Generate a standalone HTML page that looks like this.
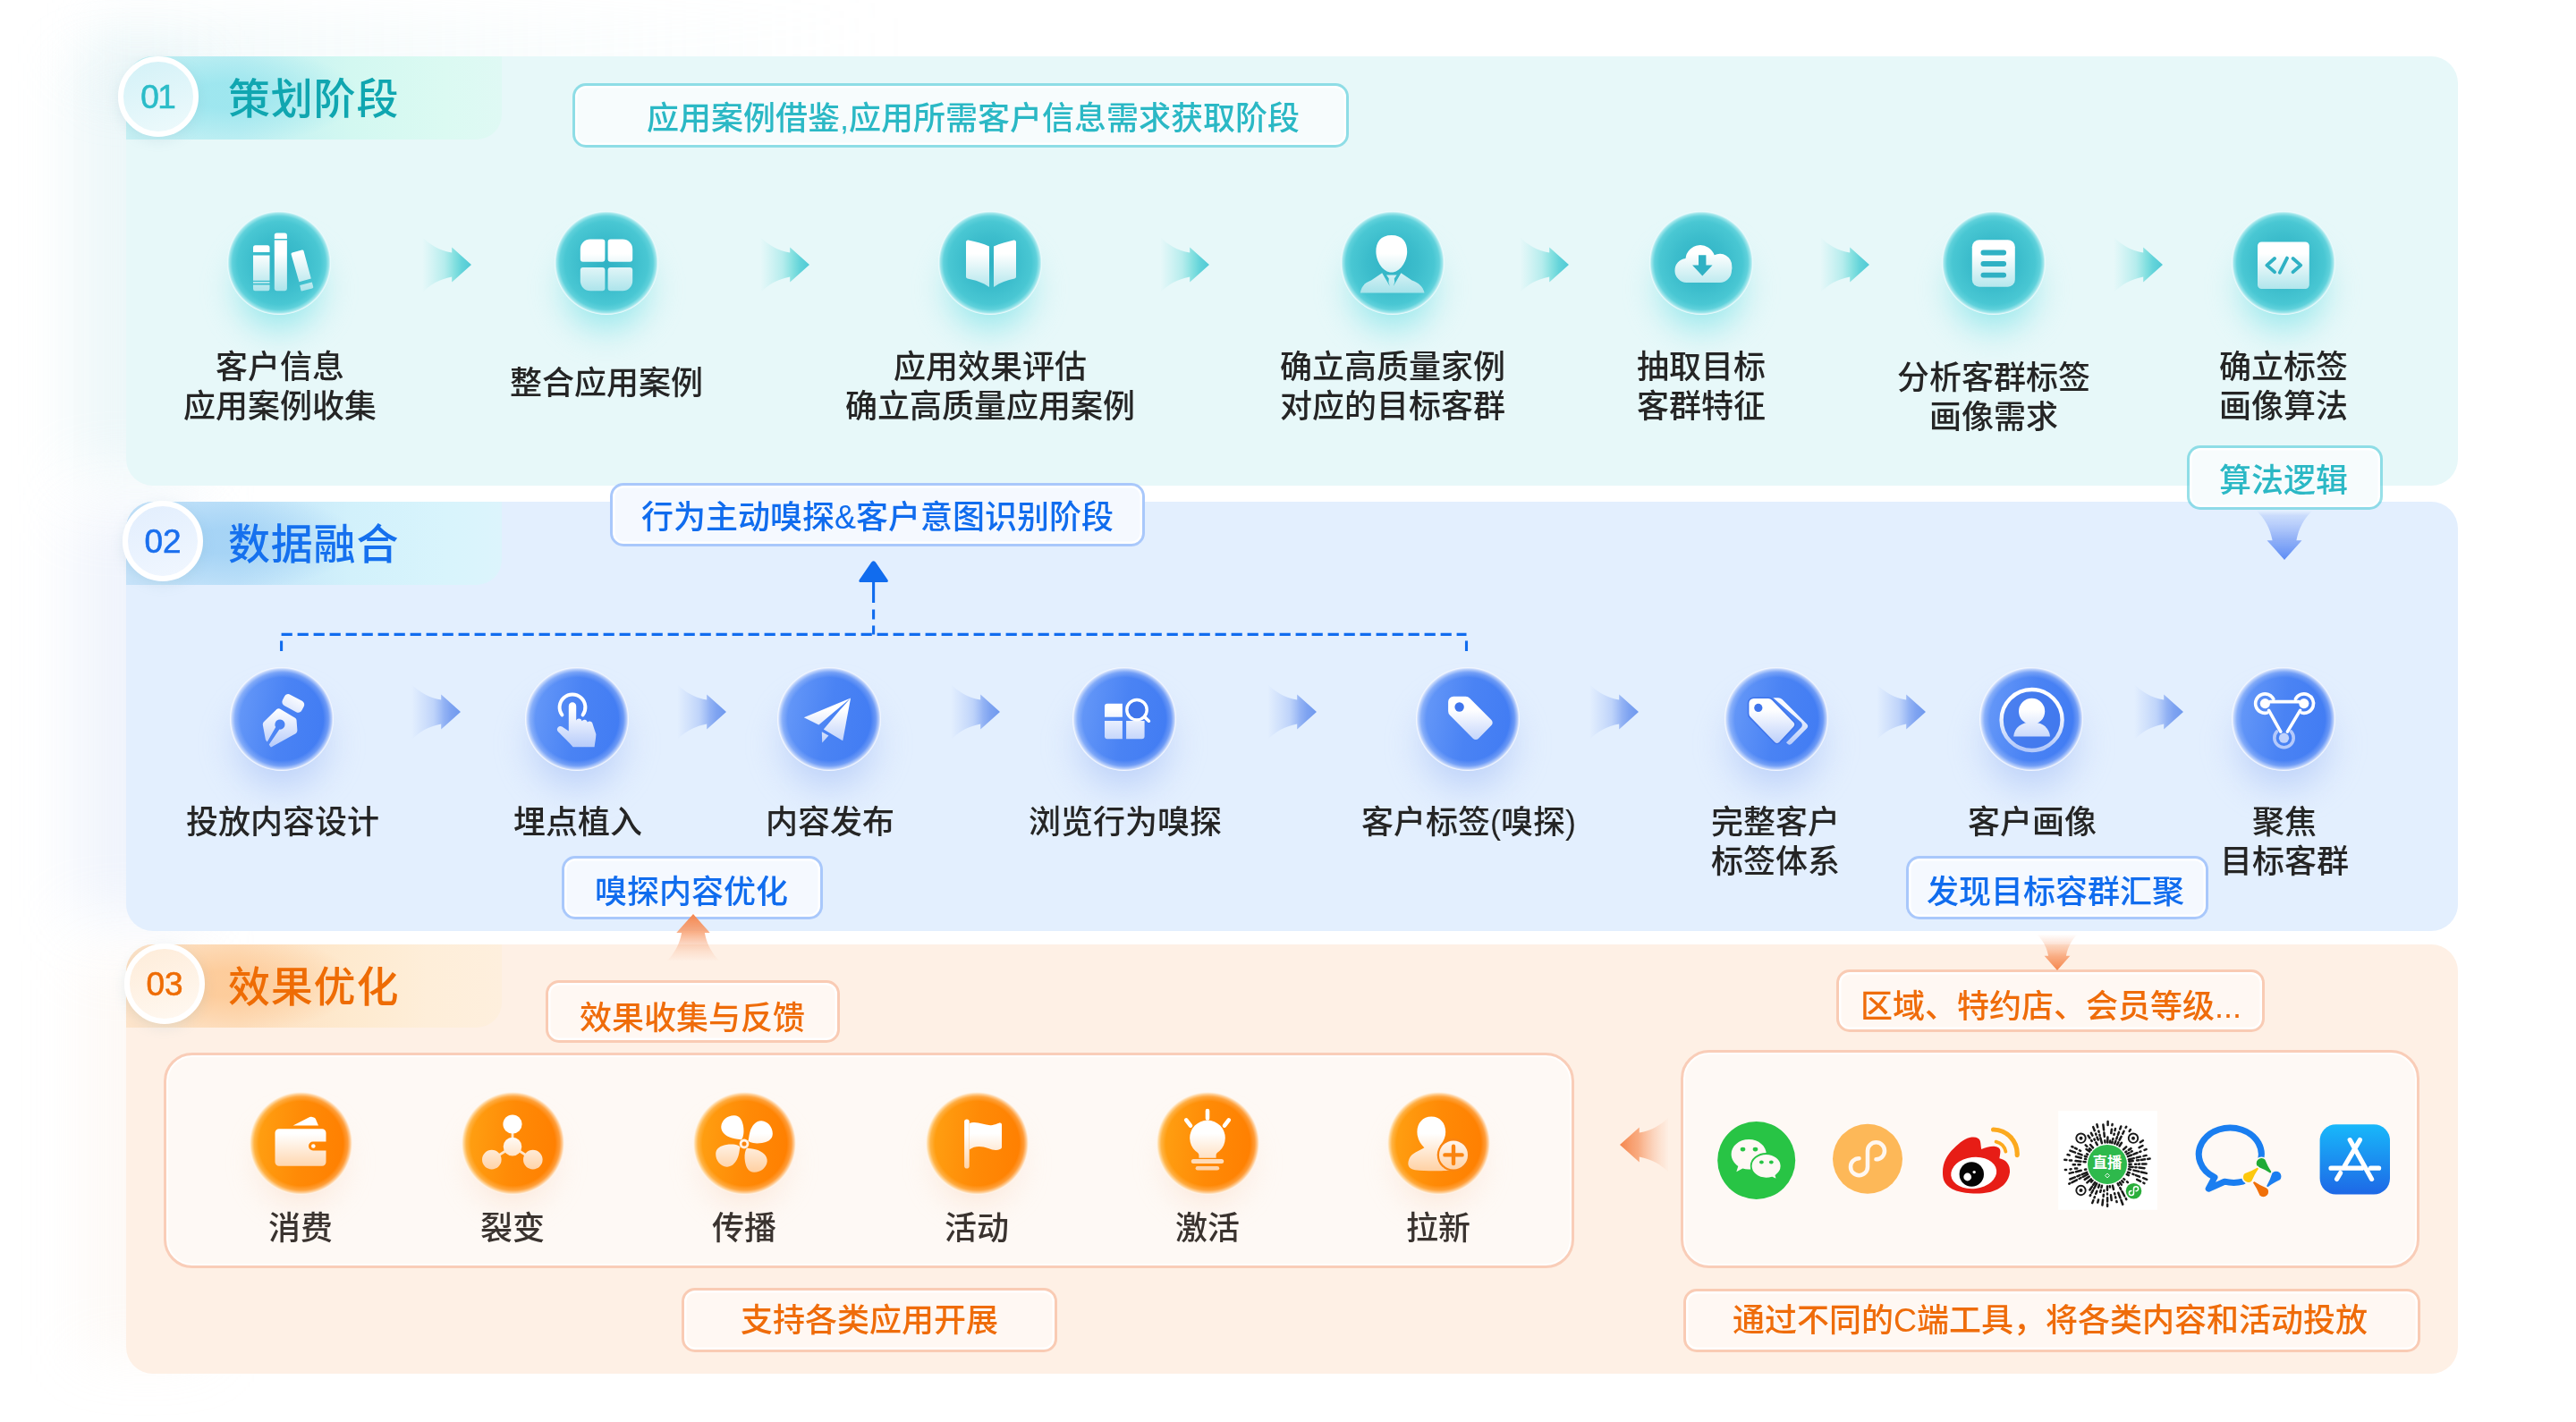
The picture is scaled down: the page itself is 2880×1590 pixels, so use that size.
<!DOCTYPE html><html lang="zh-CN"><head><meta charset="utf-8"><title>客户运营流程</title><style>
*{box-sizing:border-box;margin:0;padding:0}
html,body{width:2880px;height:1590px;background:#fff;overflow:hidden}
body{font-family:"Liberation Sans","Noto Sans CJK SC",sans-serif;color:#222}
#stage{position:relative;width:2880px;height:1590px;overflow:hidden;
 background:
  #fff}
.abs{position:absolute}
.lbl,.box span,.title,.num{will-change:transform}
.panel{position:absolute;left:141px;width:2607px;border-radius:30px}
.p1{top:63px;height:480px;background:#e7f8f9}
.p2{top:561px;height:480px;background:#e3effe}
.p3{top:1056px;height:480px;background:#fef0e5}
.tab{position:absolute;left:141px;width:420px;height:93px;border-radius:30px 0 28px 0;overflow:hidden}
.t1{top:63px;background:linear-gradient(90deg,#c6f0f4 0%,#c0eff3 30%,#d3f8f1 60%,#dbfaf2 85%,#dff9f4 100%)}
.t2{top:561px;background:linear-gradient(90deg,#c6e2f9 0%,#c0e2f9 30%,#d2f1fb 60%,#d8f4fc 85%,#dcf4fc 100%)}
.t3{top:1056px;background:linear-gradient(90deg,#fde4cb 0%,#fddfbf 30%,#feeacf 60%,#feeed9 80%,#feefdd 100%)}
.num{position:absolute;width:90px;height:90px;border-radius:50%;border:6px solid #fff;margin:-45px 0 0 -45px;
 font-size:37px;line-height:79px;text-align:center;-webkit-text-stroke:.6px currentColor;box-shadow:0 4px 14px rgba(120,170,190,.18)}
.n1{background:linear-gradient(160deg,#d3f1f7,#eefafc);color:#2bbcc8}
.n2{background:linear-gradient(160deg,#e2eefd,#f1f7ff);color:#1a6fee}
.n3{background:linear-gradient(160deg,#feecd9,#fff9f2);color:#ee6c05}
.title{position:absolute;left:255px;font-size:47px;font-weight:500;letter-spacing:0.8px;line-height:60px;height:60px;white-space:nowrap}
.lbl{position:absolute;transform:translateX(-50%);text-align:center;white-space:nowrap;font-size:36px;line-height:44px;font-weight:500;color:#252525}
.box{position:absolute;border-radius:15px;border:3px solid;font-size:36px;font-weight:500;white-space:nowrap;line-height:1;box-shadow:inset 0 0 0 2.5px rgba(255,255,255,.95)}
.box span{position:absolute;transform:translate(-50%,-50%);display:block;line-height:36px}
.bt{border-color:rgba(84,204,216,.6);background:#f7fcfd;background-clip:padding-box;color:#2bb8c5}
.bb{border-color:#a9c8fb;background:#f5f9ff;color:#106cee}
.bo{border-color:#f9cbb4;background:#fff8f3;color:#ef6c0a}
.big{position:absolute;border:3px solid #f9cdb8;border-radius:32px;background:#fef9f5;box-shadow:inset 0 0 0 2px rgba(255,255,255,.9)}
.ic{position:absolute;width:114px;height:114px;margin:-57px 0 0 -57px;border-radius:50%}
.ic:before{content:"";position:absolute;left:-8px;right:-8px;top:22px;bottom:-36px;border-radius:50%;filter:blur(14px);z-index:0}
.ic i{position:absolute;inset:-1px;border-radius:50%;z-index:1}
.org i{inset:-.5px}
.ic svg{position:absolute;left:0;top:0;width:114px;height:114px;z-index:2;overflow:visible}
.teal:before{background:radial-gradient(closest-side,rgba(110,222,228,.95),rgba(140,230,234,.6) 55%,rgba(170,238,240,0))}
.teal i{background:radial-gradient(circle closest-side at 50% 50%,#2fb2c4 0%,#3cbdcc 50%,#49c7d3 80%,#5fd1db 90%,#9fe6eb 96%,#e6f9fb 99%,#f2fcfd 100%)}
.blue:before{left:-14px;right:-14px;top:16px;bottom:-40px;background:radial-gradient(closest-side,rgba(150,180,245,.72),rgba(170,195,248,.42) 58%,rgba(190,210,250,0))}
.blue i{background:radial-gradient(circle closest-side at 50% 50%,rgba(255,255,255,0) 0%,rgba(255,255,255,0) 80%,rgba(255,255,255,.22) 90%,rgba(255,255,255,.6) 96%,rgba(255,255,255,.92) 99%,rgba(255,255,255,.96) 100%),linear-gradient(100deg,#6d9ef9 0%,#4a83f4 50%,#3f7af3 100%)}
.org:before{left:-4px;right:-4px;top:18px;bottom:-26px;background:radial-gradient(closest-side,rgba(248,200,170,.6),rgba(250,215,190,.35) 60%,rgba(252,225,205,0))}
.org i{background:radial-gradient(circle closest-side at 50% 50%,rgba(255,255,255,0) 0%,rgba(255,255,255,0) 82%,rgba(255,240,220,.25) 91%,rgba(255,244,230,.65) 96%,rgba(255,250,244,.92) 99%,rgba(255,250,244,.96) 100%),linear-gradient(95deg,#ffa414 0%,#ff8a06 50%,#ff7d00 100%)}
.arr{position:absolute;overflow:visible}
</style></head><body><div id="stage">
<svg width="0" height="0" style="position:absolute"><defs>
<linearGradient id="gT" gradientUnits="userSpaceOnUse" x1="0" y1="-34" x2="0" y2="33"><stop offset="0" stop-color="#fff"/><stop offset=".35" stop-color="#fff"/><stop offset="1" stop-color="#a9e3ea"/></linearGradient>
<linearGradient id="gB" gradientUnits="userSpaceOnUse" x1="0" y1="-34" x2="0" y2="33"><stop offset="0" stop-color="#fff"/><stop offset=".35" stop-color="#fff"/><stop offset="1" stop-color="#b3c9fa"/></linearGradient>
<linearGradient id="gO" gradientUnits="userSpaceOnUse" x1="0" y1="-34" x2="0" y2="33"><stop offset="0" stop-color="#fff"/><stop offset=".35" stop-color="#fff"/><stop offset="1" stop-color="#ffcfa0"/></linearGradient>
<linearGradient id="aT" x1="0" y1="0" x2="1" y2="0"><stop offset="0" stop-color="#8ae3e3" stop-opacity="0"/><stop offset=".15" stop-color="#8ae3e3" stop-opacity=".16"/><stop offset=".45" stop-color="#84e1e1" stop-opacity=".5"/><stop offset=".66" stop-color="#78dddd" stop-opacity=".9"/><stop offset=".8" stop-color="#64d4da"/><stop offset="1" stop-color="#4fc9d5"/></linearGradient>
<linearGradient id="aB" x1="0" y1="0" x2="1" y2="0"><stop offset="0" stop-color="#a4bff7" stop-opacity="0"/><stop offset=".15" stop-color="#a4bff7" stop-opacity=".18"/><stop offset=".45" stop-color="#9ab8f6" stop-opacity=".5"/><stop offset=".66" stop-color="#8aacf3" stop-opacity=".9"/><stop offset=".8" stop-color="#7ea3f1"/><stop offset="1" stop-color="#6f99ee"/></linearGradient>
<linearGradient id="aB2" x1="0" y1="0" x2="1" y2="0"><stop offset="0" stop-color="#a9c2fa" stop-opacity="0"/><stop offset=".1" stop-color="#a9c2fa" stop-opacity=".45"/><stop offset=".55" stop-color="#86a8f6" stop-opacity=".85"/><stop offset="1" stop-color="#5b8bf5"/></linearGradient>
<linearGradient id="aO" x1="0" y1="0" x2="1" y2="0"><stop offset="0" stop-color="#f9b08a" stop-opacity="0"/><stop offset=".2" stop-color="#f9b08a" stop-opacity=".25"/><stop offset=".62" stop-color="#f79a68" stop-opacity=".8"/><stop offset="1" stop-color="#f5854c"/></linearGradient>
</defs></svg>
<div class="abs" style="left:82px;top:70px;width:140px;height:460px;background:rgba(200,230,235,.32);filter:blur(32px)"></div>
<div class="abs" style="left:82px;top:575px;width:140px;height:450px;background:rgba(205,220,245,.3);filter:blur(32px)"></div>
<div class="abs" style="left:92px;top:1075px;width:140px;height:440px;background:rgba(245,228,216,.22);filter:blur(32px)"></div>
<div class="abs" style="left:100px;top:20px;width:900px;height:90px;background:linear-gradient(90deg,rgba(200,232,236,.22),rgba(200,232,236,0));filter:blur(26px)"></div>
<div class="panel p1"></div><div class="panel p2"></div><div class="panel p3"></div>
<div class="tab t1"><div class="abs" style="left:-40px;top:-12px;width:300px;height:112px;border-radius:50%;background:radial-gradient(closest-side,rgba(145,227,237,.72) 0%,rgba(145,227,237,.72) 25%,rgba(255,255,255,0) 100%);"></div></div>
<div class="num n1" style="left:177px;top:108px;letter-spacing:-1.5px;text-indent:-1.5px;">01</div>
<div class="title" style="top:80.5px;color:#10a6b0">策划阶段</div>
<div class="tab t2"><div class="abs" style="left:-40px;top:-12px;width:300px;height:112px;border-radius:50%;background:radial-gradient(closest-side,rgba(155,206,244,.7) 0%,rgba(155,206,244,.7) 25%,rgba(255,255,255,0) 100%);"></div></div>
<div class="num n2" style="left:182px;top:604.5px;">02</div>
<div class="title" style="top:578.5px;color:#1570ee">数据融合</div>
<div class="tab t3"><div class="abs" style="left:-40px;top:-12px;width:300px;height:112px;border-radius:50%;background:radial-gradient(closest-side,rgba(253,196,140,.7) 0%,rgba(253,196,140,.7) 25%,rgba(255,255,255,0) 100%);"></div></div>
<div class="num n3" style="left:183.5px;top:1100px;">03</div>
<div class="title" style="top:1073.5px;color:#ee6c05">效果优化</div>
<svg class="arr" style="left:527px;top:295.5px" width="1" height="1"><g transform="rotate(0) scale(1)"><path transform="translate(-54.8,0)" d="M0,-31 C8,-22.5 19,-16 33,-13.4 L33,-19.5 L54.8,0 L33,19.5 L33,13.4 C19,16 8,22.5 0,31 Z" fill="url(#aT)"/></g></svg>
<svg class="arr" style="left:905px;top:295.5px" width="1" height="1"><g transform="rotate(0) scale(1)"><path transform="translate(-54.8,0)" d="M0,-31 C8,-22.5 19,-16 33,-13.4 L33,-19.5 L54.8,0 L33,19.5 L33,13.4 C19,16 8,22.5 0,31 Z" fill="url(#aT)"/></g></svg>
<svg class="arr" style="left:1352px;top:295.5px" width="1" height="1"><g transform="rotate(0) scale(1)"><path transform="translate(-54.8,0)" d="M0,-31 C8,-22.5 19,-16 33,-13.4 L33,-19.5 L54.8,0 L33,19.5 L33,13.4 C19,16 8,22.5 0,31 Z" fill="url(#aT)"/></g></svg>
<svg class="arr" style="left:1754px;top:295.5px" width="1" height="1"><g transform="rotate(0) scale(1)"><path transform="translate(-54.8,0)" d="M0,-31 C8,-22.5 19,-16 33,-13.4 L33,-19.5 L54.8,0 L33,19.5 L33,13.4 C19,16 8,22.5 0,31 Z" fill="url(#aT)"/></g></svg>
<svg class="arr" style="left:2090px;top:295.5px" width="1" height="1"><g transform="rotate(0) scale(1)"><path transform="translate(-54.8,0)" d="M0,-31 C8,-22.5 19,-16 33,-13.4 L33,-19.5 L54.8,0 L33,19.5 L33,13.4 C19,16 8,22.5 0,31 Z" fill="url(#aT)"/></g></svg>
<svg class="arr" style="left:2417.5px;top:295.5px" width="1" height="1"><g transform="rotate(0) scale(1)"><path transform="translate(-54.8,0)" d="M0,-31 C8,-22.5 19,-16 33,-13.4 L33,-19.5 L54.8,0 L33,19.5 L33,13.4 C19,16 8,22.5 0,31 Z" fill="url(#aT)"/></g></svg>
<svg class="arr" style="left:515px;top:796px" width="1" height="1"><g transform="rotate(0) scale(1)"><path transform="translate(-54.8,0)" d="M0,-31 C8,-22.5 19,-16 33,-13.4 L33,-19.5 L54.8,0 L33,19.5 L33,13.4 C19,16 8,22.5 0,31 Z" fill="url(#aB)"/></g></svg>
<svg class="arr" style="left:812px;top:796px" width="1" height="1"><g transform="rotate(0) scale(1)"><path transform="translate(-54.8,0)" d="M0,-31 C8,-22.5 19,-16 33,-13.4 L33,-19.5 L54.8,0 L33,19.5 L33,13.4 C19,16 8,22.5 0,31 Z" fill="url(#aB)"/></g></svg>
<svg class="arr" style="left:1117.5px;top:796px" width="1" height="1"><g transform="rotate(0) scale(1)"><path transform="translate(-54.8,0)" d="M0,-31 C8,-22.5 19,-16 33,-13.4 L33,-19.5 L54.8,0 L33,19.5 L33,13.4 C19,16 8,22.5 0,31 Z" fill="url(#aB)"/></g></svg>
<svg class="arr" style="left:1472px;top:796px" width="1" height="1"><g transform="rotate(0) scale(1)"><path transform="translate(-54.8,0)" d="M0,-31 C8,-22.5 19,-16 33,-13.4 L33,-19.5 L54.8,0 L33,19.5 L33,13.4 C19,16 8,22.5 0,31 Z" fill="url(#aB)"/></g></svg>
<svg class="arr" style="left:1832px;top:796px" width="1" height="1"><g transform="rotate(0) scale(1)"><path transform="translate(-54.8,0)" d="M0,-31 C8,-22.5 19,-16 33,-13.4 L33,-19.5 L54.8,0 L33,19.5 L33,13.4 C19,16 8,22.5 0,31 Z" fill="url(#aB)"/></g></svg>
<svg class="arr" style="left:2153px;top:796px" width="1" height="1"><g transform="rotate(0) scale(1)"><path transform="translate(-54.8,0)" d="M0,-31 C8,-22.5 19,-16 33,-13.4 L33,-19.5 L54.8,0 L33,19.5 L33,13.4 C19,16 8,22.5 0,31 Z" fill="url(#aB)"/></g></svg>
<svg class="arr" style="left:2441px;top:796px" width="1" height="1"><g transform="rotate(0) scale(1)"><path transform="translate(-54.8,0)" d="M0,-31 C8,-22.5 19,-16 33,-13.4 L33,-19.5 L54.8,0 L33,19.5 L33,13.4 C19,16 8,22.5 0,31 Z" fill="url(#aB)"/></g></svg>
<svg class="abs" style="left:0;top:0" width="2880" height="1590" viewBox="0 0 2880 1590" fill="none">
<path d="M314.6,709.4 H1639.5" stroke="#116cee" stroke-width="3.1" stroke-dasharray="12.2 5.8"/><path d="M314.6,716.5 V728 M1639.5,716.5 V728" stroke="#116cee" stroke-width="3.1"/>
<path d="M976.6,649 V674 M976.6,681.4 V692.5 M976.6,699.4 V709.4" stroke="#116cee" stroke-width="3.1"/>
<path d="M976.6,627.3 q1.6,0 2.6,1.6 l13.2,19.4 q1.6,2.8 -1.8,2.8 h-28 q-3.4,0 -1.8,-2.8 l13.2,-19.4 q1,-1.6 2.6,-1.6 z" fill="#116cee"/>
</svg>
<div class="big" style="left:183px;top:1177px;width:1577px;height:241px"></div>
<div class="big" style="left:1878.5px;top:1174px;width:826px;height:244px"></div>
<div class="box bt" style="left:639.6px;top:93.2px;width:868.6px;height:71.4px"><span style="left:445.8px;top:36.5px">应用案例借鉴,应用所需客户信息需求获取阶段</span></div>
<div class="box bt" style="left:2445.4px;top:498.2px;width:218.3px;height:71.5px"><span style="left:104.2px;top:37.1px">算法逻辑</span></div>
<div class="box bb" style="left:681.6px;top:540.1px;width:598.4px;height:70.7px"><span style="left:296.8px;top:36.1px">行为主动嗅探&amp;客户意图识别阶段</span></div>
<div class="box bb" style="left:627.9px;top:957.3px;width:292.1px;height:70.7px"><span style="left:142.6px;top:37.8px">嗅探内容优化</span></div>
<div class="box bb" style="left:2131px;top:957.3px;width:337.6px;height:70.7px"><span style="left:163.6px;top:37.8px">发现目标容群汇聚</span></div>
<div class="box bo" style="left:610.3px;top:1095.7px;width:328.4px;height:70.1px"><span style="left:160.4px;top:40.2px">效果收集与反馈</span></div>
<div class="box bo" style="left:762.4px;top:1440.1px;width:419.6px;height:71.6px"><span style="left:206.2px;top:34.3px">支持各类应用开展</span></div>
<div class="box bo" style="left:2053px;top:1083.9px;width:478.5px;height:69.9px"><span style="left:236.7px;top:39.2px">区域、特约店、会员等级...</span></div>
<div class="box bo" style="left:1881.5px;top:1440.5px;width:824.8px;height:71.1px"><span style="left:407.2px;top:33.6px">通过不同的C端工具，将各类内容和活动投放</span></div>
<svg class="arr" style="left:2554.4px;top:626px" width="1" height="1"><g transform="rotate(90) scale(1)"><path transform="translate(-54.8,0)" d="M0,-31 C8,-22.5 19,-16 33,-13.4 L33,-19.5 L54.8,0 L33,19.5 L33,13.4 C19,16 8,22.5 0,31 Z" fill="url(#aB2)"/></g></svg>
<svg class="arr" style="left:775.2px;top:1021.9px" width="1" height="1"><g transform="rotate(-90) scale(0.96)"><path transform="translate(-54.8,0)" d="M0,-31 C8,-22.5 19,-16 33,-13.4 L33,-19.5 L54.8,0 L33,19.5 L33,13.4 C19,16 8,22.5 0,31 Z" fill="url(#aO)"/></g></svg>
<svg class="arr" style="left:2299.5px;top:1084.8px" width="1" height="1"><g transform="rotate(90) scale(0.74)"><path transform="translate(-54.8,0)" d="M0,-31 C8,-22.5 19,-16 33,-13.4 L33,-19.5 L54.8,0 L33,19.5 L33,13.4 C19,16 8,22.5 0,31 Z" fill="url(#aO)"/></g></svg>
<svg class="arr" style="left:1810.5px;top:1279.5px" width="1" height="1"><g transform="rotate(180) scale(1)"><path transform="translate(-54.8,0)" d="M0,-31 C8,-22.5 19,-16 33,-13.4 L33,-19.5 L54.8,0 L33,19.5 L33,13.4 C19,16 8,22.5 0,31 Z" fill="url(#aO)"/></g></svg>
<div class="ic teal" style="left:312px;top:293.7px"><i></i><svg viewBox="-57 -57 114 114"><g fill="url(#gT)">
<path d="M-29,-17.3 a2.5,2.5 0 0 1 2.5,-2.5 h13.5 a2.5,2.5 0 0 1 2.5,2.5 V-12 H-29Z M-29,-8.5 h18.5 V19.8 H-29Z M-29,21 h18.5 v1.8 H-29Z M-29,24.4 h18.5 V29 a2.2,2.2 0 0 1 -2.2,2.2 h-14.1 a2.2,2.2 0 0 1 -2.2,-2.2Z"/>
<path d="M-5.2,-30.8 a2.6,2.6 0 0 1 2.6,-2.6 h8.9 a2.6,2.6 0 0 1 2.6,2.6 V-27 H-5.2Z M-5.2,-25.6 H8.9 V28.8 a2.4,2.4 0 0 1 -2.4,2.4 h-9.3 a2.4,2.4 0 0 1 -2.4,-2.4Z"/>
<path d="M13.6,-9.6 a1.6,1.6 0 0 1 1.1,-2 l10.8,-2.9 a1.6,1.6 0 0 1 2,1.1 L35.8,17.4 L22.4,21.2Z M23.2,25 L36.8,21.4 L38.2,26.6 a1.5,1.5 0 0 1 -1.1,1.9 L26.2,31.3 a1.5,1.5 0 0 1 -1.9,-1.1Z"/>
</g></svg></div>
<div class="ic teal" style="left:678px;top:293.7px"><i></i><svg viewBox="-57 -57 114 114"><g fill="url(#gT)">
<path d="M-29.2,-15.5 a11,11 0 0 1 11,-11 h13.6 a3,3 0 0 1 3,3 v19.2 a3,3 0 0 1 -3,3 h-21.6 a3,3 0 0 1 -3,-3Z"/>
<path d="M29.2,-15.5 a11,11 0 0 0 -11,-11 h-13.6 a3,3 0 0 0 -3,3 v19.2 a3,3 0 0 0 3,3 h21.6 a3,3 0 0 0 3,-3Z"/>
<path d="M-29.2,20.2 a11,11 0 0 0 11,11 h13.6 a3,3 0 0 0 3,-3 v-20.3 a3,3 0 0 0 -3,-3 h-21.6 a3,3 0 0 0 -3,3Z"/>
<path d="M29.2,20.2 a11,11 0 0 1 -11,11 h-13.6 a3,3 0 0 1 -3,-3 v-20.3 a3,3 0 0 1 3,-3 h21.6 a3,3 0 0 1 3,3Z"/>
</g></svg></div>
<div class="ic teal" style="left:1107px;top:293.7px"><i></i><svg viewBox="-57 -57 114 114"><g fill="url(#gT)">
<path d="M-27,-23.5 a2,2 0 0 1 2.6,-1.9 C-15,-23.5 -8,-21.5 -1,-18.6 V27 C-8,22 -17,19.2 -25.3,17.6 a2,2 0 0 1 -1.7,-2Z"/>
<path d="M29,-23.5 a2,2 0 0 0 -2.6,-1.9 C19,-23.5 11,-21.5 4,-18.6 V27 C11,22 19,19.2 27.3,17.6 a2,2 0 0 0 1.7,-2Z"/>
</g></svg></div>
<div class="ic teal" style="left:1557.3px;top:293.7px"><i></i><svg viewBox="-57 -57 114 114"><g fill="url(#gT)">
<path d="M-1.2,-31 C11,-31 16.4,-23 16.2,-12.5 C16,-1 8,10.6 -1.2,10.6 C-10.4,10.6 -18.4,-1 -18.6,-12.5 C-18.8,-23 -13.4,-31 -1.2,-31Z"/>
<path d="M-36.2,33.6 C-35,26 -31,22 -24,19.5 L-11.8,11.2 L-3.2,26 L-4.6,21.5 L-4.2,17.5 L-7,13.6 H4.6 L1.8,17.5 L2.2,21.5 L0.8,26 L9.4,11.2 L21.6,19.5 C28.6,22 34,26 35.6,33.6Z"/>
</g></svg></div>
<div class="ic teal" style="left:1902px;top:293.7px"><i></i><svg viewBox="-57 -57 114 114"><path fill="url(#gT)" d="M-16.5,22 a13.6,13.6 0 0 1 -1,-27.1 a16.6,16.6 0 0 1 32.2,-3.6 a13.3,13.3 0 0 1 19.5,11.7 a13.4,13.4 0 0 1 -0.2,5.8 a13.5,13.5 0 0 1 -13.2,13.2Z"/>
<path fill="#2fb1c4" d="M-3,-8.7 h8.4 v11.2 h7.1 L1.3,14.6 L-9.9,2.5 H-3Z"/></svg></div>
<div class="ic teal" style="left:2229px;top:293.7px"><i></i><svg viewBox="-57 -57 114 114"><rect x="-24.2" y="-25.8" width="48" height="52.5" rx="8" fill="url(#gT)"/>
<g stroke="#2fb1c4" stroke-width="5.8" stroke-linecap="round"><path d="M-11.6,-11.5 H11.2 M-11.6,1 H11.2 M-11.6,13.6 H11.2"/></g></svg></div>
<div class="ic teal" style="left:2553px;top:293.7px"><i></i><svg viewBox="-57 -57 114 114"><rect x="-29" y="-23.6" width="57.8" height="52.6" rx="4.5" fill="url(#gT)"/>
<g stroke="#2fb1c4" stroke-width="3.8" stroke-linecap="round" stroke-linejoin="round" fill="none"><path d="M-10,-5 L-18.6,2.6 L-10,10.2 M4,-5.4 L-4.2,10.8 M10.6,-5 L19.2,2.6 L10.6,10.2"/></g></svg></div>
<div class="ic blue" style="left:315px;top:803.5px"><i></i><svg viewBox="-57 -57 114 114"><g fill="url(#gB)">
<rect x="-12.2" y="-7" width="24.4" height="14" rx="4.6" transform="translate(12.8,-17.6) rotate(28)"/>
<path d="M-5.6,-11 a3,3 0 0 1 3.4,-0.4 L15,-1.2 a3,3 0 0 1 1.5,2.2 L17.4,12.6 a4,4 0 0 1 -1.4,3.3 L-10.6,30.8 a1.6,1.6 0 0 1 -2.4,-0.4 l-1.2,-1.8 L-2.6,11.6 a5.6,5.6 0 1 0 -4.2,-2.6 L-16.2,25.6 l-1.2,-1.4 a3,3 0 0 1 -0.8,-1.6 L-21.2,6.4 a4,4 0 0 1 1,-3.2Z"/>
</g></svg></div>
<div class="ic blue" style="left:645.3px;top:803.5px"><i></i><svg viewBox="-57 -57 114 114"><path d="M-16.6,-4.6 A14.4,14.4 0 1 1 6.6,-4.6" fill="none" stroke="#fff" stroke-width="4" stroke-linecap="round"/>
<path fill="url(#gB)" d="M-9.2,-14.6 a4.2,4.2 0 0 1 8.4,0 V1.4 a3.4,3.4 0 0 1 6.4,0.8 a3.4,3.4 0 0 1 6.2,1.4 a3.3,3.3 0 0 1 5.8,2 C19,10 20.4,14 21.4,17 C21.2,22 20,27 19.6,31.2 H-4.4 C-8,27 -15,20 -21.2,14 a3.6,3.6 0 0 1 4.6,-5.4 L-9.2,13.4Z"/></svg></div>
<div class="ic blue" style="left:927.2px;top:803.5px"><i></i><svg viewBox="-57 -57 114 114"><g fill="url(#gB)">
<path d="M-28.2,-1.8 L24.1,-23.4 L-11.6,6.6Z"/>
<path d="M24.1,-23.4 L15.2,24.3 L-6.2,11.4 L11.5,-9.4Z"/>
<path d="M-8.2,14.2 L-0.6,18.4 L-7.8,26.6Z"/>
</g></svg></div>
<div class="ic blue" style="left:1257.3px;top:803.5px"><i></i><svg viewBox="-57 -57 114 114"><g fill="url(#gB)">
<path d="M-22,-14.2 a3,3 0 0 1 3,-3 H-2.1 V-2.3 H-22Z"/>
<path d="M-22,2 H-2.1 V22.3 H-19 a3,3 0 0 1 -3,-3Z"/>
<path d="M2.1,2 H22.6 V19.3 a3,3 0 0 1 -3,3 H2.1Z"/>
</g>
<circle cx="14" cy="-10.3" r="11.2" fill="#3f75ec" stroke="#fff" stroke-width="3.4"/>
<path d="M22.6,-2.4 L27.4,2.2" stroke="#fff" stroke-width="3.6" stroke-linecap="round"/></svg></div>
<div class="ic blue" style="left:1641.2px;top:803.5px"><i></i><svg viewBox="-57 -57 114 114"><path fill="url(#gB)" d="M-21.9,-19.2 a6,6 0 0 1 6,-6 H-2.4 a6.5,6.5 0 0 1 4.6,1.9 L26.4,0.9 a4.4,4.4 0 0 1 0,6.2 L12,21.8 a4.4,4.4 0 0 1 -6.2,0 L-20,-4.2 a6.5,6.5 0 0 1 -1.9,-4.6Z"/>
<circle cx="-9.4" cy="-13.5" r="5.2" fill="#3f75ec"/></svg></div>
<div class="ic blue" style="left:1986px;top:803.5px"><i></i><svg viewBox="-57 -57 114 114"><path fill="url(#gB)" d="M-3.6,-23.8 H2 a6.5,6.5 0 0 1 4.6,1.9 L34,5.6 a3.6,3.6 0 0 1 0,5 L17.2,27.6 a3.4,3.4 0 0 1 -4.6,0.2 l-1.6,-1.6 L27.6,9.6 a4.4,4.4 0 0 0 0,-6.2Z" opacity=".96"/>
<path fill="url(#gB)" stroke="#3f75ec" stroke-width="1.6" d="M-31.4,-17.8 a6,6 0 0 1 6,-6 H-9 a6.5,6.5 0 0 1 4.6,1.9 L19.6,3 a4.4,4.4 0 0 1 0,6.2 L3.8,26.2 a4.4,4.4 0 0 1 -6.2,0 L-29.5,-1.6 a6.5,6.5 0 0 1 -1.9,-4.6Z"/>
<circle cx="-20.2" cy="-12.6" r="4.6" fill="#3f75ec"/></svg></div>
<div class="ic blue" style="left:2271.2px;top:803.5px"><i></i><svg viewBox="-57 -57 114 114"><circle cx="0.6" cy="1" r="34" fill="#3f74ea" fill-opacity=".55"/>
<circle cx="0.6" cy="1" r="34" fill="none" stroke="url(#gB)" stroke-width="4.4"/>
<g fill="url(#gB)"><circle cx="0.6" cy="-8.6" r="14.6"/>
<path d="M-19.8,19.6 C-19,9.6 -11,3.6 0.6,3.6 C12.2,3.6 20.2,9.6 21,19.6Z"/></g></svg></div>
<div class="ic blue" style="left:2553px;top:803.5px"><i></i><svg viewBox="-57 -57 114 114"><g fill="none" stroke="#fff" stroke-width="3.6" stroke-linecap="round">
<path d="M-15,-19.4 H17.2"/><path d="M-16.4,-9.6 L-3.2,14.2"/><path d="M18.6,-9.6 L4.4,14.2"/>
<path d="M-18.4,-6.9 A10.7,10.7 0 1 1 -11.2,-22.4"/><path d="M13.4,-22.4 A10.7,10.7 0 1 1 20.6,-6.9"/>
</g>
<path d="M8.5,14.0 A10.7,10.7 0 1 1 -7.5,14.0" fill="none" stroke="#b4c9fb" stroke-width="3.6" stroke-linecap="round"/>
<circle cx="-20.6" cy="-17.4" r="5.6" fill="#fff"/><circle cx="22.8" cy="-17.4" r="5.6" fill="#fff"/><circle cx="0.5" cy="21.2" r="5.6" fill="#c0d2fc"/></svg></div>
<div class="ic org" style="left:336px;top:1278px"><i></i><svg viewBox="-57 -57 114 114"><path fill="url(#gO)" d="M-8.4,-19.6 L10.2,-28.9 a3,3 0 0 1 2,-0.3 l2.6,0.6 a3,3 0 0 1 2,1.6 L20,-19.6Z"/>
<path fill="url(#gO)" d="M-28.5,-11.3 a4.5,4.5 0 0 1 4.5,-4.5 H24 a4.5,4.5 0 0 1 4.5,4.5 V-1.5 H14 a5,5 0 0 0 0,10 H28.5 V21.2 a4.5,4.5 0 0 1 -4.5,4.5 H-24 a4.5,4.5 0 0 1 -4.5,-4.5Z"/>
<circle cx="14.3" cy="3.5" r="2.3" fill="#fff"/></svg></div>
<div class="ic org" style="left:573px;top:1278px"><i></i><svg viewBox="-57 -57 114 114"><g stroke="#ffe6cc" stroke-width="2.8"><path d="M0,-21 V4 M0,4 L-23,18.6 M0,4 L22.8,18.6"/></g>
<g fill="url(#gO)"><circle cx="0" cy="-21" r="10.6"/><circle cx="0" cy="4.1" r="10.3"/><circle cx="-23.2" cy="18.6" r="10.8"/><circle cx="22.8" cy="18.6" r="10.8"/></g></svg></div>
<div class="ic org" style="left:832px;top:1278px"><i></i><svg viewBox="-57 -57 114 114"><g fill="url(#gO)"><path d="M-1.9,-5.5 C-0.4,-9.0 -0.2,-14.0 -1.0,-19.0 C-2.0,-25.5 -5.0,-30.6 -11.0,-30.8 C-18.5,-31.0 -25.2,-25.5 -25.7,-18.6 C-26.2,-12.0 -20.0,-7.5 -13.6,-5.5 C-9.0,-4.2 -5.5,-4.2 -3.2,-3.4Z"/><path d="M6.5,-0.9 C10.0,0.6 15.0,0.8 20.0,-0.0 C26.5,-1.0 31.6,-4.0 31.8,-10.0 C32.0,-17.5 26.5,-24.2 19.6,-24.7 C13.0,-25.2 8.5,-19.0 6.5,-12.6 C5.2,-8.0 5.2,-4.5 4.4,-2.2Z"/><path d="M1.9,7.5 C0.4,11.0 0.2,16.0 1.0,21.0 C2.0,27.5 5.0,32.6 11.0,32.8 C18.5,33.0 25.2,27.5 25.7,20.6 C26.2,14.0 20.0,9.5 13.6,7.5 C9.0,6.2 5.5,6.2 3.2,5.4Z"/><path d="M-6.5,2.9 C-10.0,1.4 -15.0,1.2 -20.0,2.0 C-26.5,3.0 -31.6,6.0 -31.8,12.0 C-32.0,19.5 -26.5,26.2 -19.6,26.7 C-13.0,27.2 -8.5,21.0 -6.5,14.6 C-5.2,10.0 -5.2,6.5 -4.4,4.2Z"/><circle cy="1" r="5.4"/></g><circle cy="1" r="2.5" fill="#f98410"/></svg></div>
<div class="ic org" style="left:1092px;top:1278px"><i></i><svg viewBox="-57 -57 114 114"><g fill="url(#gO)"><rect x="-13.9" y="-26.6" width="5.6" height="55.2" rx="2.8"/>
<path d="M-8.3,-22 C0,-25 8,-19.4 16,-19.8 C21,-20 24,-22.4 26,-22.4 a2,2 0 0 1 2,2 V4.6 a2.4,2.4 0 0 1 -1.4,2.2 C22,8.8 18,8 13,6 C6,3.4 -2,2.6 -8.3,7.4Z"/></g></svg></div>
<div class="ic org" style="left:1350px;top:1278px"><i></i><svg viewBox="-57 -57 114 114"><g stroke="#fff" stroke-width="4.6" stroke-linecap="round"><path d="M0,-36 V-27.6 M-23.8,-25.6 L-19,-19.4 M23.8,-25.6 L19,-19.4"/></g>
<path fill="url(#gO)" d="M-9.6,16.8 V13.6 C-9.6,11.6 -11.6,10.4 -13.4,9 A19.8,19.8 0 1 1 13.4,9 C11.6,10.4 9.6,11.6 9.6,13.6 V16.8Z"/>
<rect x="-18.2" y="18" width="36.4" height="5" rx="2.5" fill="#ffdcb9"/><rect x="-13.4" y="26" width="26.6" height="4.6" rx="2.3" fill="#ffd3a8"/></svg></div>
<div class="ic org" style="left:1608px;top:1278px"><i></i><svg viewBox="-57 -57 114 114"><path fill="url(#gO)" d="M-7.7,-29.4 C2,-29.4 8.2,-22 8.2,-12.6 C8.2,-5 4.6,0 1.6,3.4 C4,6 9,7.6 13,9.6 L14,30.4 C6,31.4 -14,31.6 -26,30.2 C-33,29.4 -35.4,24.4 -32.4,17.4 C-29.6,11 -21,8.6 -15.6,5.2 C-20,1 -23.6,-4.6 -23.6,-12.6 C-23.6,-22 -17.4,-29.4 -7.7,-29.4Z"/>
<circle cx="17" cy="13.4" r="18.3" fill="#f98410"/>
<circle cx="17" cy="13.4" r="16" fill="url(#gO)"/>
<path d="M7.4,13.4 H26.6 M17,3.8 V23" stroke="#f98410" stroke-width="4.4" stroke-linecap="round"/></svg></div>
<div class="lbl" style="left:312.5px;top:388.8px;">客户信息<br>应用案例收集</div>
<div class="lbl" style="left:677.8px;top:406.8px;">整合应用案例</div>
<div class="lbl" style="left:1107.3px;top:388.9px;">应用效果评估<br>确立高质量应用案例</div>
<div class="lbl" style="left:1557.4px;top:388.7px;">确立高质量家例<br>对应的目标客群</div>
<div class="lbl" style="left:1902.3px;top:388.7px;">抽取目标<br>客群特征</div>
<div class="lbl" style="left:2229.1px;top:400.7px;">分析客群标签<br>画像需求</div>
<div class="lbl" style="left:2553.4px;top:388.7px;">确立标签<br>画像算法</div>
<div class="lbl" style="left:315.5px;top:898.1px;">投放内容设计</div>
<div class="lbl" style="left:645.6px;top:898.1px;">埋点植入</div>
<div class="lbl" style="left:927.7px;top:898.1px;">内容发布</div>
<div class="lbl" style="left:1257.5px;top:898.1px;">浏览行为嗅探</div>
<div class="lbl" style="left:1642px;top:898.1px;">客户标签(嗅探)</div>
<div class="lbl" style="left:1985.2px;top:898.1px;">完整客户<br>标签体系</div>
<div class="lbl" style="left:2271.8px;top:898.1px;">客户画像</div>
<div class="lbl" style="left:2553.8px;top:898.1px;">聚焦<br>目标客群</div>
<div class="lbl" style="left:336px;top:1352.0px;color:#3a332f">消费</div>
<div class="lbl" style="left:573px;top:1352.0px;color:#3a332f">裂变</div>
<div class="lbl" style="left:832px;top:1352.0px;color:#3a332f">传播</div>
<div class="lbl" style="left:1092px;top:1352.0px;color:#3a332f">活动</div>
<div class="lbl" style="left:1350px;top:1352.0px;color:#3a332f">激活</div>
<div class="lbl" style="left:1608px;top:1352.0px;color:#3a332f">拉新</div>
<svg class="abs" style="left:0;top:0" width="2880" height="1590" viewBox="0 0 2880 1590"><defs><linearGradient id="gApp" x1="0" y1="0" x2="0" y2="1"><stop offset="0" stop-color="#18b8fa"/><stop offset="1" stop-color="#1e68e6"/></linearGradient></defs><g transform="translate(1963.7,1297.4)"><circle r="43.5" fill="#28c445"/><path fill="#fef8f4" d="M-8.5,-23.5 C2.4,-23.5 11.1,-16 11.1,-6.8 C11.1,-6 11,-5.2 10.9,-4.4 C1,-5.6 -6.4,0.6 -6.4,7.6 C-6.4,8.6 -6.2,9.4 -6,10 C-9.6,10.4 -12.4,10 -15.4,9 L-22.4,12.8 L-20.4,6.6 C-25,3.4 -28.1,-1.2 -28.1,-6.8 C-28.1,-16 -19.4,-23.5 -8.5,-23.5Z"/><path fill="#fef8f4" d="M10.9,-7.4 C20.2,-7.4 27.8,-1.2 27.8,6.4 C27.8,10.6 25.4,14.4 21.8,17 L23.2,22 L17.6,19.2 C15.6,19.8 13.2,20.2 10.9,20.2 C1.6,20.2 -6,14 -6,6.4 C-6,-1.2 1.6,-7.4 10.9,-7.4Z" stroke="#28c445" stroke-width="1.8"/><g fill="#28c445"><ellipse cx="-15.2" cy="-12.3" rx="2.8" ry="2.3"/><ellipse cx="-1.2" cy="-12.3" rx="2.8" ry="2.3"/><ellipse cx="5.7" cy="2" rx="2.4" ry="2"/><ellipse cx="16.6" cy="2" rx="2.4" ry="2"/></g></g><g transform="translate(2088,1295.8)"><circle r="39" fill="#fdb858"/><path d="M-9.5,-0.8 A9.5,9.5 0 1 0 0,8.7 L0,-9.2 A9.5,9.5 0 1 1 9.5,0.3" fill="none" stroke="#fff7f0" stroke-width="4.6" stroke-linecap="round" transform="translate(0,0.2)"/></g><path fill="#e71d16" d="M2172,1310.7 C2172,1300 2177,1291 2184.2,1284.3 C2191,1277.5 2198,1272.2 2204.3,1271.6 C2209.5,1271 2213,1272.5 2213.9,1276 C2214.6,1279 2214.6,1282 2215.2,1285.1 C2220,1283 2226,1281.4 2230.7,1282 C2234.5,1282.5 2236.6,1284.4 2236.4,1288 C2236.3,1290.5 2235.6,1292.8 2235.4,1295.2 C2239,1296 2242,1297.5 2243.9,1299.9 C2246.5,1303 2247.2,1306.8 2247,1310.7 C2246.5,1315.5 2244.6,1319.5 2241.6,1323.2 C2237,1328.5 2230.5,1331.6 2223,1333.3 C2216.5,1334.7 2209.5,1334.9 2202.8,1334.3 C2195.5,1333.6 2188.5,1332.4 2182.6,1329.4 C2178,1327 2174.8,1324 2173.3,1320.1 C2172.3,1317 2172,1314 2172,1310.7Z"/><ellipse cx="2206.7" cy="1311.5" rx="25.6" ry="17.6" fill="#fff" transform="rotate(-7 2206.7 1311.5)"/><circle cx="2204.3" cy="1313" r="13.7" fill="#050505"/><circle cx="2199.7" cy="1316" r="4.4" fill="#fff"/><circle cx="2207.2" cy="1310.6" r="1.7" fill="#fff"/><g fill="none" stroke="#fca91e" stroke-linecap="round"><path d="M2231.6,1276.6 A14.5,14.5 0 0 1 2242.4,1287.6" stroke-width="3.8"/><path d="M2228.6,1263 A27,27 0 0 1 2255.2,1291.6" stroke-width="5.2"/></g><rect x="2301.2" y="1242.2" width="110.6" height="110.6" fill="#fff"/><path d="M2380.5,1301.7L2382.7,1301.7M2387.1,1301.7L2388.3,1301.7M2390.9,1301.7L2392.1,1301.6M2395.1,1301.6L2399.5,1301.6M2380.4,1304.5L2384.7,1304.9M2387.3,1305.2L2388.5,1305.3M2391.5,1305.6L2397.5,1306.2M2379.9,1307.3L2382.0,1307.8M2385.5,1308.6L2391.4,1309.9M2393.9,1310.5L2399.8,1311.9M2378.9,1310.7L2380.9,1311.4M2384.3,1312.7L2385.4,1313.2M2387.8,1314.1L2392.0,1315.7M2396.1,1317.2L2400.2,1318.8M2377.8,1313.1L2379.8,1314.1M2389.2,1318.9L2393.1,1320.9M2396.3,1322.5L2397.4,1323.1M2374.4,1318.1L2375.3,1318.9M2378.0,1321.3L2378.9,1322.1M2372.3,1320.2L2373.7,1321.9M2370.0,1322.0L2371.8,1324.6M2367.7,1323.4L2368.7,1325.4M2370.2,1328.0L2371.2,1329.9M2372.5,1332.2L2375.3,1337.5M2376.8,1340.1L2377.3,1341.2M2368.3,1333.7L2370.4,1339.3M2371.4,1341.7L2373.3,1346.7M2362.0,1325.7L2363.0,1329.9M2364.1,1334.2L2364.4,1335.4M2365.1,1338.3L2365.4,1339.4M2366.3,1342.9L2366.6,1344.1M2358.8,1326.2L2359.0,1327.4M2360.0,1336.2L2360.7,1342.1M2356.0,1326.4L2356.0,1330.8M2356.0,1334.4L2356.0,1335.6M2356.1,1339.2L2356.1,1343.6M2356.1,1346.6L2356.1,1348.8M2352.4,1331.0L2352.3,1332.2M2351.8,1335.7L2351.6,1337.9M2351.1,1341.5L2350.4,1347.5M2350.0,1325.7L2349.5,1327.8M2348.8,1330.7L2348.2,1332.8M2346.1,1341.4L2345.3,1344.5M2347.1,1324.7L2346.0,1327.7M2344.4,1331.8L2343.2,1334.8M2341.9,1338.2L2341.5,1339.3M2340.4,1342.1L2339.2,1345.1M2344.2,1323.4L2341.3,1328.6M2340.1,1330.9L2338.5,1333.7M2337.3,1336.0L2336.7,1337.0M2342.1,1322.1L2340.3,1324.7M2338.9,1326.9L2336.4,1330.5M2339.5,1320.0L2338.0,1321.6M2337.8,1318.4L2333.4,1322.4M2335.7,1315.6L2330.7,1318.9M2334.2,1313.0L2328.8,1315.8M2326.5,1317.0L2324.6,1318.0M2321.9,1319.3L2316.5,1322.1M2314.2,1323.2L2313.3,1323.7M2333.2,1310.9L2327.7,1313.2M2325.2,1314.1L2322.3,1315.3M2319.8,1316.3L2314.3,1318.5M2332.2,1307.5L2331.0,1307.8M2326.7,1308.8L2320.9,1310.2M2317.9,1310.9L2313.7,1311.9M2322.2,1306.4L2320.0,1306.6M2315.6,1307.2L2314.5,1307.4M2310.1,1307.9L2308.9,1308.1M2325.7,1302.2L2323.5,1302.3M2319.9,1302.3L2317.7,1302.3M2331.6,1299.3L2329.5,1299.0M2326.5,1298.7L2320.5,1298.1M2316.1,1297.6L2313.9,1297.4M2310.4,1297.0L2308.3,1296.8M2332.2,1296.1L2331.0,1295.8M2326.8,1294.7L2320.9,1293.3M2313.7,1291.6L2311.6,1291.0M2333.0,1293.4L2330.9,1292.7M2327.6,1291.4L2323.4,1289.9M2320.1,1288.6L2314.4,1286.6M2334.1,1290.9L2333.1,1290.3M2326.1,1286.8L2325.0,1286.3M2321.8,1284.7L2319.8,1283.7M2317.5,1282.5L2316.4,1282.0M2336.1,1287.6L2332.5,1285.0M2337.7,1285.6L2336.0,1284.2M2333.3,1281.8L2331.7,1280.3M2340.0,1283.4L2337.1,1280.0M2338.7,1276.0L2338.1,1275.0M2336.4,1272.5L2334.6,1269.9M2344.8,1280.1L2343.3,1277.3M2341.9,1274.6L2341.4,1273.6M2339.4,1269.6L2337.9,1266.8M2345.7,1274.5L2344.5,1271.5M2343.5,1268.7L2343.1,1267.6M2341.8,1264.2L2340.2,1260.1M2349.9,1278.2L2348.3,1272.4M2347.7,1269.9L2347.4,1268.7M2346.6,1265.8L2346.3,1264.6M2345.2,1260.4L2344.4,1257.3M2353.5,1277.5L2353.3,1275.3M2352.8,1271.0L2352.4,1266.6M2352.1,1263.6L2351.4,1257.6M2356.3,1277.4L2356.4,1271.4M2356.6,1258.0L2356.6,1253.9M2359.0,1277.6L2359.3,1275.4M2360.3,1267.1L2360.9,1262.7M2361.4,1258.3L2361.6,1257.1M2361.4,1278.0L2361.7,1276.8M2362.2,1274.3L2362.5,1273.1M2363.5,1268.8L2363.7,1267.7M2364.5,1264.1L2365.0,1262.0M2364.3,1278.8L2365.4,1275.8M2366.3,1273.4L2367.0,1271.3M2367.9,1268.9L2369.0,1265.9M2370.2,1262.5L2371.3,1259.5M2367.0,1280.0L2368.4,1277.2M2369.6,1274.8L2371.6,1270.9M2373.2,1267.7L2374.6,1264.8M2376.6,1260.9L2377.2,1259.8M2369.6,1281.5L2372.0,1277.8M2380.7,1264.9L2381.9,1263.0M2374.0,1285.3L2377.2,1282.3M2376.4,1288.3L2377.3,1287.6M2379.8,1285.9L2382.5,1284.1M2392.8,1277.2L2395.9,1275.2M2377.7,1290.5L2380.5,1289.0M2382.8,1287.7L2383.8,1287.2M2391.6,1283.1L2395.5,1281.0M2378.9,1293.1L2383.0,1291.5M2385.4,1290.6L2389.5,1289.0M2392.3,1287.9L2393.4,1287.5M2397.5,1285.9L2399.6,1285.1M2379.9,1296.4L2385.7,1295.1M2388.7,1294.4L2392.9,1293.4M2396.5,1292.6L2399.6,1291.9M2380.3,1298.7L2384.7,1298.1M2389.0,1297.5L2391.2,1297.3M2393.8,1296.9L2398.1,1296.3M2401.1,1295.9L2403.6,1295.6" stroke="#1a1a1a" stroke-width="2.5" stroke-linecap="round" fill="none"/><circle cx="2326.5" cy="1272.7" r="5.2" fill="#fff" stroke="#1a1a1a" stroke-width="1.9"/><circle cx="2326.5" cy="1272.7" r="2" fill="#1a1a1a"/><circle cx="2385" cy="1272.7" r="5.2" fill="#fff" stroke="#1a1a1a" stroke-width="1.9"/><circle cx="2385" cy="1272.7" r="2" fill="#1a1a1a"/><circle cx="2326.5" cy="1331" r="5.2" fill="#fff" stroke="#1a1a1a" stroke-width="1.9"/><circle cx="2326.5" cy="1331" r="2" fill="#1a1a1a"/><circle cx="2356.0" cy="1301.9" r="22" fill="#2eb94c"/><text x="2356.0" y="1306.1000000000001" font-family="'Liberation Sans','Noto Sans CJK SC',sans-serif" font-size="16.5" font-weight="700" fill="#fff" text-anchor="middle">直播</text><path d="M2353.4,1314.5 l2.6,-2.4 l2.6,2.4 l-2.6,2.4Z" fill="none" stroke="#dff5e3" stroke-width="1"/><circle cx="2385.5" cy="1331.7" r="10.2" fill="#fff"/><circle cx="2385.5" cy="1331.7" r="8.8" fill="#2aae3b"/><path transform="translate(2385.5,1331.7) scale(.27)" d="M-9.5,-0.8 A9.5,9.5 0 1 0 0,8.7 L0,-9.2 A9.5,9.5 0 1 1 9.5,0.3" fill="none" stroke="#fff" stroke-width="5.6" stroke-linecap="round"/><g fill="none" stroke="#1a7ef0" stroke-width="7" stroke-linejoin="round" stroke-linecap="round"><path d="M2526.5,1300 A35,29.6 0 1 0 2476,1316.4 L2469.2,1329.2 L2487,1321.2 C2493,1322.6 2501,1322.8 2507.5,1321.2"/></g><path fill="#1faa35" stroke="#fef8f4" stroke-width="1.6" d="M2523.8,1305.3 A6.5,6.5 0 1 1 2533.0,1296.1 Q2535.8,1303.4 2540.5,1310.5 L2538.3,1312.7 Q2531.2,1308.0 2523.8,1305.3Z"/><path fill="#fdc80d" stroke="#fef8f4" stroke-width="1.6" d="M2518.0,1321.0 A6.5,6.5 0 1 1 2509.2,1311.4 Q2516.6,1309.0 2524.0,1304.5 L2526.0,1306.7 Q2521.0,1313.7 2518.0,1321.0Z"/><path fill="#f07009" stroke="#fef8f4" stroke-width="1.6" d="M2535.0,1327.9 A6.5,6.5 0 1 1 2525.8,1337.1 Q2523.0,1329.8 2517.9,1322.3 L2520.1,1320.1 Q2527.6,1325.2 2535.0,1327.9Z"/><path fill="#1a7ef0" stroke="#fef8f4" stroke-width="1.6" d="M2539.8,1311.1 A6.5,6.5 0 1 1 2549.6,1319.7 Q2542.4,1322.9 2535.3,1328.4 L2533.1,1326.4 Q2537.5,1318.6 2539.8,1311.1Z"/><rect x="2593.6" y="1257.2" width="78.4" height="78.4" rx="18" fill="url(#gApp)"/><g stroke="#fff" stroke-width="5.2" stroke-linecap="round" fill="none"><path d="M2638.4,1274.6 L2621.4,1303.6 M2616.6,1311.6 L2612.6,1318.4 M2627.2,1274.6 L2651.6,1318.4 M2606,1306.2 H2640.6 M2650.4,1306.2 H2659.6"/></g></svg>
</div></body></html>
